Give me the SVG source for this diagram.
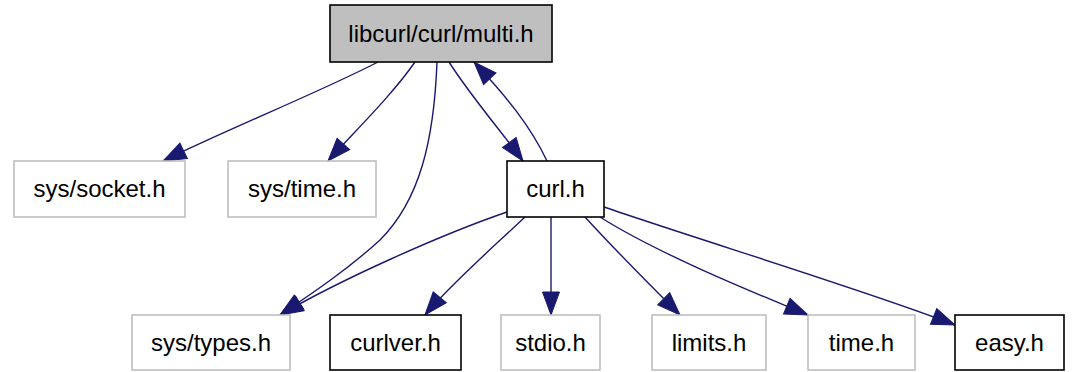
<svg xmlns="http://www.w3.org/2000/svg" width="1074" height="372" viewBox="0 0 1074 372">
  <style>
    .box { fill: #ffffff; stroke: #000000; stroke-width: 1.6; }
    .ext { fill: #ffffff; stroke: #bfbfbf; stroke-width: 1.6; }
    .root { fill: #bfbfbf; stroke: #000000; stroke-width: 1.6; }
    .lbl { font-family: "Liberation Sans", Arial, sans-serif; font-size: 24px; fill: #000000; text-anchor: middle; }
    .edge { fill: none; stroke: #191970; stroke-width: 1.4; marker-end: url(#arrow); }
  </style>
  <defs>
    <marker id="arrow" markerUnits="userSpaceOnUse" markerWidth="26" markerHeight="20" viewBox="0 0 24 20" refX="23" refY="10" orient="auto">
      <path d="M0,1.5 L23,10 L0,18.5 Z" fill="#191970" stroke="#191970" stroke-width="1"/>
    </marker>
  </defs>

  <!-- dependency edges -->
  <g id="edges">
    <path class="edge" d="M378,62 C320,92 230,128 163,161"/>
    <path class="edge" d="M415,62 C392,95 356,130 328,161"/>
    <path class="edge" d="M437,62 C434,140 420,200 380,240 C345,272 305,298 280,315"/>
    <path class="edge" d="M449,62 C470,95 500,130 523,161"/>
    <path class="edge" d="M547,161 C530,125 505,95 474,62"/>
    <path class="edge" d="M507,212 C440,235 340,280 280,315"/>
    <path class="edge" d="M525,217 C490,250 450,285 425,315"/>
    <path class="edge" d="M551,217 L551,315"/>
    <path class="edge" d="M585,217 C615,250 655,290 680,315"/>
    <path class="edge" d="M600,217 C660,255 760,295 808,315"/>
    <path class="edge" d="M604,207 C700,240 880,295 955,325"/>
  </g>

  <g id="node-multi">
    <rect class="root" x="330" y="5" width="222" height="57"/>
    <text class="lbl" x="441" y="42">libcurl/curl/multi.h</text>
  </g>
  <g id="node-sys-socket">
    <rect class="ext" x="14" y="161" width="171" height="56"/>
    <text class="lbl" x="99.5" y="197">sys/socket.h</text>
  </g>
  <g id="node-sys-time">
    <rect class="ext" x="228" y="161" width="148" height="56"/>
    <text class="lbl" x="302" y="197">sys/time.h</text>
  </g>
  <g id="node-curl">
    <rect class="box" x="507" y="161" width="97" height="56"/>
    <text class="lbl" x="555.5" y="197">curl.h</text>
  </g>
  <g id="node-sys-types">
    <rect class="ext" x="132" y="315" width="158" height="55"/>
    <text class="lbl" x="211" y="351">sys/types.h</text>
  </g>
  <g id="node-curlver">
    <rect class="box" x="330" y="315" width="131" height="55"/>
    <text class="lbl" x="395.5" y="351">curlver.h</text>
  </g>
  <g id="node-stdio">
    <rect class="ext" x="501" y="315" width="99" height="55"/>
    <text class="lbl" x="550.5" y="351">stdio.h</text>
  </g>
  <g id="node-limits">
    <rect class="ext" x="652" y="315" width="114" height="55"/>
    <text class="lbl" x="709" y="351">limits.h</text>
  </g>
  <g id="node-time">
    <rect class="ext" x="808" y="315" width="107" height="55"/>
    <text class="lbl" x="861.5" y="351">time.h</text>
  </g>
  <g id="node-easy">
    <rect class="box" x="955" y="315" width="109" height="55"/>
    <text class="lbl" x="1009.5" y="351">easy.h</text>
  </g>
</svg>
